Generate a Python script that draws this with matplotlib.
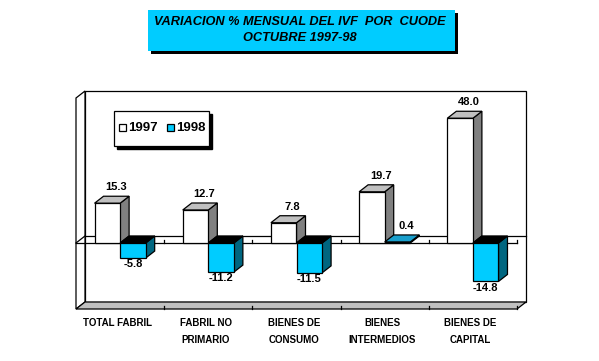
import matplotlib
matplotlib.use("Agg")
import matplotlib.pyplot as plt
from matplotlib.patches import Rectangle, Polygon

plt.rcParams['font.family'] = ['Liberation Sans', 'DejaVu Sans']

categories = ["TOTAL FABRIL", "FABRIL NO\nPRIMARIO", "BIENES DE\nCONSUMO",
              "BIENES\nINTERMEDIOS", "BIENES DE\nCAPITAL"]
series_names = ["1997", "1998"]
values_1997 = [15.3, 12.7, 7.8, 19.7, 48.0]
values_1998 = [-5.8, -11.2, -11.5, 0.4, -14.8]
title_lines = ["VARIACION % MENSUAL DEL IVF  POR  CUODE", "OCTUBRE 1997-98"]

W, H = 599, 361
fig = plt.figure(figsize=(W / 100, H / 100), dpi=100)
fig.patch.set_facecolor('white')

def fx(px):
    return px / W

def fy(py):
    return (H - py) / H

# front plane of the plot area (pixels)
L, R, T, B = 76, 517, 98, 309
ax = fig.add_axes([fx(L), fy(B), fx(R) - fx(L), fy(T) - fy(B)])
ymin, ymax = -25.4, 55.8
xmin, xmax = -0.5, len(categories) - 0.5
ax.set_xlim(xmin, xmax)
ax.set_ylim(ymin, ymax)
ax.axis('off')

# depth offset (pixels -> data units)
DX_PX, DY_PX = 9, 7
dx = DX_PX * (xmax - xmin) / (R - L)
dy = DY_PX * (ymax - ymin) / (B - T)

def poly(pts, fc, ec='black', lw=0.9, z=1):
    p = Polygon(pts, closed=True, facecolor=fc, edgecolor=ec, linewidth=lw,
                clip_on=False, zorder=z, joinstyle='miter')
    ax.add_patch(p)
    return p

# back wall
poly([(xmin + dx, ymin + dy), (xmax + dx, ymin + dy), (xmax + dx, ymax + dy),
      (xmin + dx, ymax + dy)], 'white', z=0.5)
# left wall
poly([(xmin, ymin), (xmin, ymax), (xmin + dx, ymax + dy), (xmin + dx, ymin + dy)],
     'white', z=0.6)
# floor
poly([(xmin, ymin), (xmax, ymin), (xmax + dx, ymin + dy), (xmin + dx, ymin + dy)],
     '#c0c0c0', z=0.7)

# zero plane lines
ax.plot([xmin + dx, xmax + dx], [dy, dy], color='black', lw=0.9, zorder=0.8,
        clip_on=False)
ax.plot([xmin, xmax], [0, 0], color='black', lw=0.9, zorder=0.8, clip_on=False)
ax.plot([xmin, xmin + dx], [0, dy], color='black', lw=0.9, zorder=0.8,
        clip_on=False)

# category boundary ticks
tick_len = 3 * (ymax - ymin) / (B - T)
for k in range(1, len(categories) + 1):
    xb = xmin + k
    ax.plot([xb, xb], [0, tick_len], color='black', lw=0.9, zorder=0.85,
            clip_on=False)
    ax.plot([xb, xb], [ymin, ymin + tick_len], color='black', lw=0.9,
            zorder=0.85, clip_on=False)

bw = 0.29
styles = {
    "1997": dict(front='white', top='#c0c0c0', top_neg='#c0c0c0', side='#808080'),
    "1998": dict(front='#00ccff', top='#1a9fcc', top_neg='black', side='#006680'),
}

z = 2
for i in range(len(categories)):
    for s, (name, vals) in enumerate(zip(series_names, [values_1997, values_1998])):
        v = vals[i]
        st = styles[name]
        x0 = i - bw if s == 0 else i
        x1 = x0 + bw
        lo, hi = min(0, v), max(0, v)
        # side face
        poly([(x1, lo), (x1, hi), (x1 + dx, hi + dy), (x1 + dx, lo + dy)],
             st['side'], z=z)
        # top face
        poly([(x0, hi), (x1, hi), (x1 + dx, hi + dy), (x0 + dx, hi + dy)],
             st['top'] if v >= 0 else st['top_neg'], z=z + 0.1)
        # front face
        ax.add_patch(Rectangle((x0, lo), bw, hi - lo, facecolor=st['front'],
                               edgecolor='black', linewidth=0.9, zorder=z + 0.2,
                               clip_on=False))
        z += 1
        if v >= 0:
            ax.annotate(f"{v:.1f}", xy=((x0 + x1) / 2 + dx, v + dy),
                        xytext=(0, 3), textcoords='offset points',
                        ha='center', va='bottom', fontsize=8,
                        fontweight='bold', zorder=50)
        else:
            ax.annotate(f"{v:.1f}", xy=((x0 + x1) / 2, v),
                        xytext=(0, -1), textcoords='offset points',
                        ha='center', va='top', fontsize=8,
                        fontweight='bold', zorder=50)

# category labels
for i, c in enumerate(categories):
    ax.text(i - 0.03, ymin - 3.5, c, ha='center', va='top', fontsize=7,
            fontweight='bold', linespacing=1.85)

# legend (manual)
lx0, ly0, lx1, ly1 = 114, 111, 209, 146
fig.add_artist(Rectangle((fx(lx0 + 3), fy(ly1 + 3)), fx(lx1) - fx(lx0),
                         fy(ly0) - fy(ly1), transform=fig.transFigure,
                         facecolor='black', edgecolor='black', zorder=20))
fig.add_artist(Rectangle((fx(lx0), fy(ly1)), fx(lx1) - fx(lx0),
                         fy(ly0) - fy(ly1), transform=fig.transFigure,
                         facecolor='white', edgecolor='black', lw=0.9, zorder=21))
for name, sx in zip(series_names, [119, 167]):
    fig.add_artist(Rectangle((fx(sx), fy(131)), fx(7), fy(124) - fy(131),
                             transform=fig.transFigure,
                             facecolor=styles[name]['front'], edgecolor='black',
                             lw=0.9, zorder=22))
    fig.text(fx(sx + 9), fy(128), name, ha='left', va='center', fontsize=9.5,
             fontweight='bold', zorder=23)

# title box
tx0, ty0, tx1, ty1 = 148, 10, 455, 51
fig.add_artist(Rectangle((fx(tx0 + 3), fy(ty1 + 3)), fx(tx1) - fx(tx0),
                         fy(ty0) - fy(ty1), transform=fig.transFigure,
                         facecolor='black', edgecolor='none', zorder=20))
fig.add_artist(Rectangle((fx(tx0), fy(ty1)), fx(tx1) - fx(tx0),
                         fy(ty0) - fy(ty1), transform=fig.transFigure,
                         facecolor='#00ccff', edgecolor='none', zorder=21))
fig.text(fx(300), fy(22), title_lines[0], ha='center', va='center', fontsize=9.2,
         fontweight='bold', fontstyle='italic', zorder=22)
fig.text(fx(300), fy(38), title_lines[1], ha='center', va='center', fontsize=9.2,
         fontweight='bold', fontstyle='italic', zorder=22)

fig.savefig("out.png", dpi=100)
